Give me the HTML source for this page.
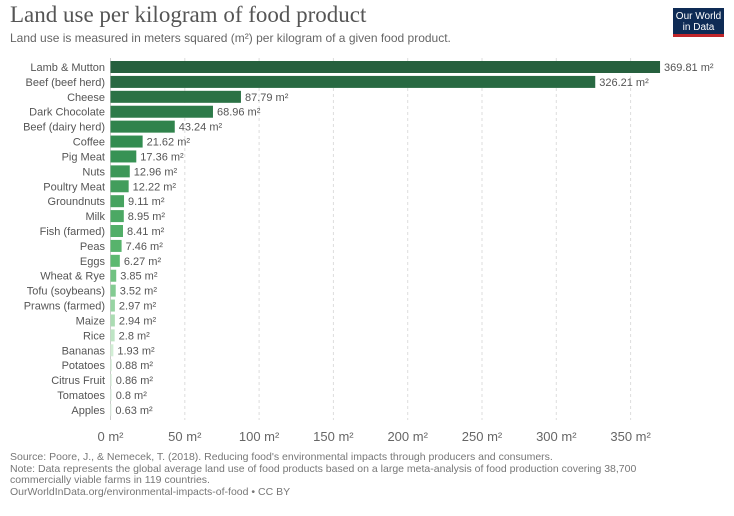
<!DOCTYPE html>
<html><head><meta charset="utf-8"><style>
body{margin:0;background:#fff;font-family:"Liberation Sans",sans-serif;}
#wrap{position:relative;width:734px;height:516px;overflow:hidden}
.t{position:absolute;white-space:nowrap}
</style></head><body><div id="wrap">
<div class="t" style="left:10px;top:2px;font-family:'Liberation Serif',serif;font-size:23px;color:#555">Land use per kilogram of food product</div>
<div class="t" style="left:10px;top:31px;font-size:12px;color:#666">Land use is measured in meters squared (m²) per kilogram of a given food product.</div>
<div style="position:absolute;left:673px;top:8px;width:51px;height:29px;background:#0e2b55;border-bottom:3px solid #c0262a;color:#fff;font-size:10px;line-height:11px;text-align:center;padding-top:3px;box-sizing:border-box">Our World<br>in Data</div>
<svg id="svg" width="734" height="516" style="position:absolute;left:0;top:0"></svg>
<div class="t" style="left:10px;top:452px;font-size:10.5px;line-height:11.5px;color:#777">Source: Poore, J., &amp; Nemecek, T. (2018). Reducing food's environmental impacts through producers and consumers.<br>Note: Data represents the global average land use of food products based on a large meta-analysis of food production covering 38,700<br>commercially viable farms in 119 countries.<br>OurWorldInData.org/environmental-impacts-of-food • CC BY</div>
</div>
<script>
const categories=["Lamb & Mutton","Beef (beef herd)","Cheese","Dark Chocolate","Beef (dairy herd)","Coffee","Pig Meat","Nuts","Poultry Meat","Groundnuts","Milk","Fish (farmed)","Peas","Eggs","Wheat & Rye","Tofu (soybeans)","Prawns (farmed)","Maize","Rice","Bananas","Potatoes","Citrus Fruit","Tomatoes","Apples"];
const values=[369.81,326.21,87.79,68.96,43.24,21.62,17.36,12.96,12.22,9.11,8.95,8.41,7.46,6.27,3.85,3.52,2.97,2.94,2.8,1.93,0.88,0.86,0.8,0.63];
const ticks=[0,50,100,150,200,250,300,350];
const NS="http://www.w3.org/2000/svg",svg=document.getElementById("svg");
const x0=110.5,k=1.486,y0=67,step=14.91;
const X=v=>x0+v*k, Y=i=>y0+i*step;
function el(t,a){const e=document.createElementNS(NS,t);for(const n in a)e.setAttribute(n,a[n]);svg.appendChild(e);return e;}
ticks.forEach(t=>{
 if(t>0){const g=el("line",{x1:X(t),x2:X(t),y1:58,y2:420,stroke:"#ddd","stroke-dasharray":"3,3"});
 
 }
 const l=el("text",{x:X(t),y:441,"text-anchor":"middle","font-size":13,fill:"#666"});l.textContent=t+" m²";
 
 
});
const ax=el("line",{x1:x0,x2:x0,y1:58,y2:420,stroke:"#ccc"});


const stops=[[0,[38,96,62]],[5,[50,140,80]],[13,[92,185,112]],[19,[210,238,213]],[23,[225,243,227]]];
function col(i){for(let s=0;s<stops.length-1;s++){const [a,ca]=stops[s],[b,cb]=stops[s+1];if(i<=b){const t=(i-a)/(b-a);return `rgb(${ca.map((c,j)=>Math.round(c+(cb[j]-c)*t)).join(",")})`;}}return "rgb(225,243,227)";}
categories.forEach((c,i)=>{
 const y=Y(i),w=values[i]*k;
 const lb=el("text",{x:105,y:y+4,"text-anchor":"end","font-size":11,fill:"#555"});lb.textContent=c;
 
 
 const r=el("rect",{x:x0,y:y-6,width:Math.max(w,1),height:12,fill:col(i)});
 
 
 const v=el("text",{x:x0+w+4,y:y+4,"font-size":11,fill:"#555"});v.textContent=values[i]+" m²";
 
 
});
</script></body></html>
